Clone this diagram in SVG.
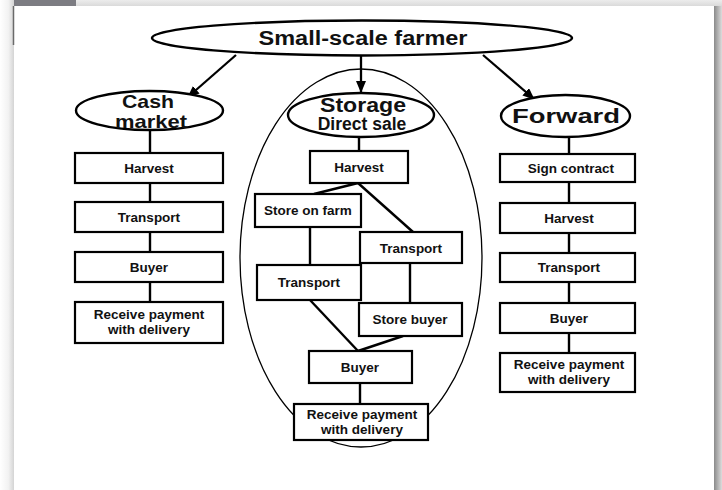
<svg xmlns="http://www.w3.org/2000/svg" width="722" height="490" viewBox="0 0 722 490">
  <defs>
    <linearGradient id="shadowRight" x1="0" y1="0" x2="1" y2="0">
      <stop offset="0" stop-color="#8a8a8a"/>
      <stop offset="1" stop-color="#dcdcdc"/>
    </linearGradient>
    <linearGradient id="shadowLeft" x1="0" y1="0" x2="1" y2="0">
      <stop offset="0" stop-color="#ffffff"/>
      <stop offset="0.6" stop-color="#f2f2f2"/>
      <stop offset="1" stop-color="#d4d4d4"/>
    </linearGradient>
    <linearGradient id="shadowTop" x1="0" y1="0" x2="0" y2="1">
      <stop offset="0" stop-color="#ececec"/>
      <stop offset="1" stop-color="#dadada"/>
    </linearGradient>
    <marker id="arrow" viewBox="0 0 12 10" refX="11" refY="5" markerWidth="12" markerHeight="10" markerUnits="userSpaceOnUse" orient="auto">
      <path d="M0,0 L12,5 L0,10 Z" fill="#000"/>
    </marker>
    <style>
      .node { fill: #fff; stroke: #000; stroke-width: 2.2; }
      .oval { fill: #fff; stroke: #000; stroke-width: 2.4; }
      .group { fill: none; stroke: #000; stroke-width: 1.3; }
      .link { fill: none; stroke: #000; stroke-width: 2.4; }
      .arrow { fill: none; stroke: #000; stroke-width: 2.3; marker-end: url(#arrow); }
      text { font-family: "Liberation Sans", Arial, sans-serif; font-weight: bold; fill: #111; text-anchor: middle; }
      .lbl { font-size: 13.5px; }
      .head { font-size: 18.5px; }
    </style>
  </defs>

  <!-- page frame -->
  <rect x="0" y="0" width="722" height="490" fill="#ffffff"/>
  <rect x="0" y="0" width="14" height="490" fill="url(#shadowLeft)"/>
  <rect x="14" y="0" width="708" height="6" fill="url(#shadowTop)"/>
  <rect x="14" y="0" width="62" height="6" fill="#7c7c82"/>
  <rect x="714" y="6" width="8" height="484" fill="url(#shadowRight)"/>
  <rect x="14" y="6" width="700" height="484" fill="#ffffff"/>
  <line x1="13.5" y1="6" x2="13.5" y2="45" stroke="#6a6a6a" stroke-width="1.5"/>

  <!-- storage grouping -->
  <ellipse id="storage-group" class="group" cx="361" cy="258" rx="121" ry="189"/>

  <!-- connectors -->
  <g id="connectors">
    <line class="arrow" x1="236" y1="55" x2="188" y2="97"/>
    <line class="arrow" x1="361" y1="56" x2="361" y2="92"/>
    <line class="arrow" x1="483" y1="55" x2="534" y2="99"/>

    <line class="link" x1="150" y1="130" x2="150" y2="153"/>
    <line class="link" x1="150" y1="183" x2="150" y2="202"/>
    <line class="link" x1="150" y1="232" x2="150" y2="252"/>
    <line class="link" x1="150" y1="282" x2="150" y2="302"/>

    <line class="link" x1="359" y1="137" x2="359" y2="151"/>
    <line class="link" x1="358" y1="183" x2="314" y2="194"/>
    <line class="link" x1="358" y1="183" x2="413" y2="232"/>
    <line class="link" x1="310" y1="227" x2="310" y2="265"/>
    <line class="link" x1="410" y1="263" x2="410" y2="303"/>
    <line class="link" x1="310" y1="300" x2="358" y2="351"/>
    <line class="link" x1="403" y1="336" x2="358" y2="351"/>
    <line class="link" x1="360" y1="383" x2="360" y2="404"/>

    <line class="link" x1="569" y1="137" x2="569" y2="154"/>
    <line class="link" x1="569" y1="182" x2="569" y2="203"/>
    <line class="link" x1="569" y1="233" x2="569" y2="253"/>
    <line class="link" x1="569" y1="282" x2="569" y2="303"/>
    <line class="link" x1="569" y1="333" x2="569" y2="353"/>
  </g>

  <!-- root -->
  <g id="farmer">
    <ellipse class="oval" cx="362" cy="38" rx="210" ry="17.5"/>
    <text x="363" y="45" font-size="20" textLength="209" lengthAdjust="spacingAndGlyphs">Small-scale farmer</text>
  </g>

  <!-- cash market column -->
  <g id="cash-market">
    <ellipse class="oval" cx="149.5" cy="110.5" rx="73.5" ry="19.5"/>
    <text class="head" x="148" y="107.5" textLength="52" lengthAdjust="spacingAndGlyphs">Cash</text>
    <text class="head" x="151" y="127.5" textLength="72" lengthAdjust="spacingAndGlyphs">market</text>
  </g>
  <g id="cash-harvest">
    <rect class="node" x="75" y="153" width="148" height="30"/>
    <text class="lbl" x="149" y="173">Harvest</text>
  </g>
  <g id="cash-transport">
    <rect class="node" x="75" y="202" width="148" height="30"/>
    <text class="lbl" x="149" y="222">Transport</text>
  </g>
  <g id="cash-buyer">
    <rect class="node" x="75" y="252" width="148" height="30"/>
    <text class="lbl" x="149" y="272">Buyer</text>
  </g>
  <g id="cash-payment">
    <rect class="node" x="75" y="302" width="148" height="41"/>
    <text class="lbl" x="149" y="318.5">Receive payment</text>
    <text class="lbl" x="149" y="333.5">with delivery</text>
  </g>

  <!-- storage / direct sale column -->
  <g id="storage">
    <ellipse class="oval" cx="361" cy="115" rx="73" ry="22"/>
    <text x="363" y="111.5" font-size="20" textLength="86" lengthAdjust="spacingAndGlyphs">Storage</text>
    <text x="362" y="129.5" font-size="17.5">Direct sale</text>
  </g>
  <g id="storage-harvest">
    <rect class="node" x="310" y="151" width="98" height="32"/>
    <text class="lbl" x="359" y="172">Harvest</text>
  </g>
  <g id="store-on-farm">
    <rect class="node" x="255" y="194" width="106" height="33"/>
    <text class="lbl" x="308" y="215">Store on farm</text>
  </g>
  <g id="storage-transport-direct">
    <rect class="node" x="360" y="232" width="102" height="31"/>
    <text class="lbl" x="411" y="253">Transport</text>
  </g>
  <g id="storage-transport-farm">
    <rect class="node" x="257" y="265" width="104" height="35"/>
    <text class="lbl" x="309" y="287">Transport</text>
  </g>
  <g id="store-buyer">
    <rect class="node" x="359" y="303" width="103" height="33"/>
    <text class="lbl" x="410" y="324">Store buyer</text>
  </g>
  <g id="storage-buyer">
    <rect class="node" x="309" y="351" width="103" height="32"/>
    <text class="lbl" x="360" y="372">Buyer</text>
  </g>
  <g id="storage-payment">
    <rect class="node" x="294" y="404" width="134" height="36"/>
    <text class="lbl" x="362" y="418.5">Receive payment</text>
    <text class="lbl" x="362" y="434">with delivery</text>
  </g>

  <!-- forward column -->
  <g id="forward">
    <ellipse class="oval" cx="565.5" cy="116" rx="64.5" ry="21"/>
    <text x="566" y="123" font-size="20" textLength="108" lengthAdjust="spacingAndGlyphs">Forward</text>
  </g>
  <g id="sign-contract">
    <rect class="node" x="500" y="154" width="135" height="28"/>
    <text class="lbl" x="571" y="173">Sign contract</text>
  </g>
  <g id="forward-harvest">
    <rect class="node" x="500" y="203" width="135" height="30"/>
    <text class="lbl" x="569" y="223">Harvest</text>
  </g>
  <g id="forward-transport">
    <rect class="node" x="500" y="253" width="135" height="29"/>
    <text class="lbl" x="569" y="272">Transport</text>
  </g>
  <g id="forward-buyer">
    <rect class="node" x="500" y="303" width="135" height="30"/>
    <text class="lbl" x="569" y="323">Buyer</text>
  </g>
  <g id="forward-payment">
    <rect class="node" x="500" y="353" width="135" height="39"/>
    <text class="lbl" x="569" y="368.5">Receive payment</text>
    <text class="lbl" x="569" y="384">with delivery</text>
  </g>
</svg>
